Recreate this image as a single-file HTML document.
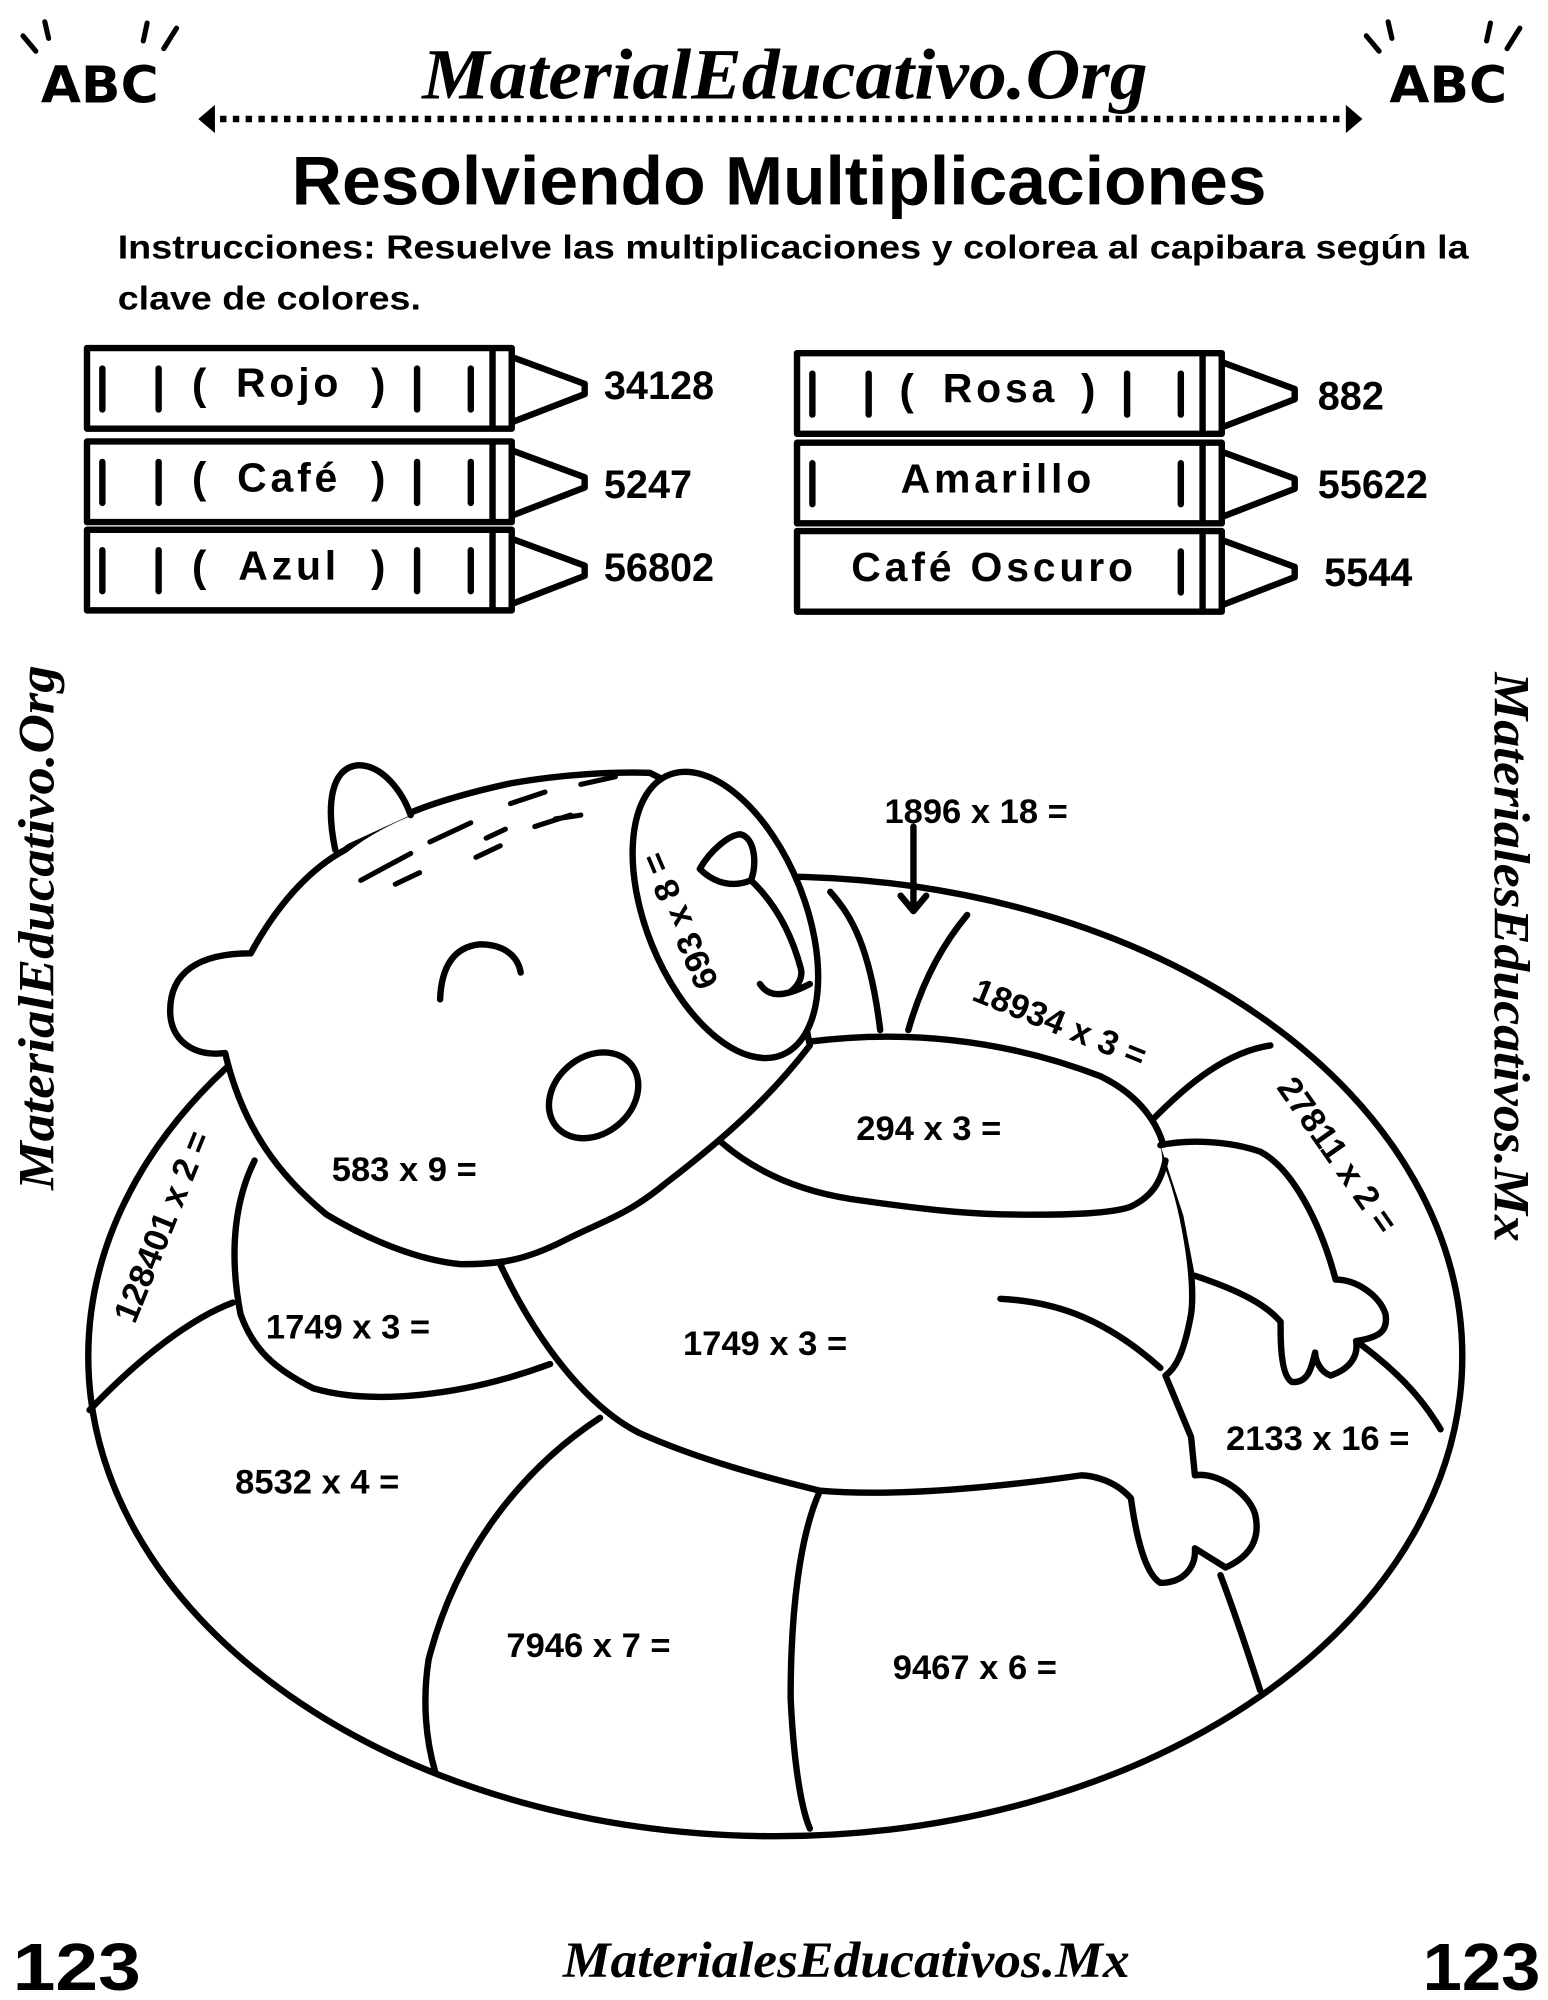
<!DOCTYPE html>
<html><head><meta charset="utf-8"><style>
html,body{margin:0;padding:0;background:#fff}
svg{display:block}
text{font-family:"Liberation Sans",sans-serif;font-weight:bold;fill:#000}
.ser{font-family:"Liberation Serif",serif;font-style:italic;font-weight:bold}
</style></head><body>
<svg width="1548" height="2000" viewBox="0 0 1210 1563" preserveAspectRatio="none" xmlns="http://www.w3.org/2000/svg">
<g fill="none" stroke="#000" stroke-width="5" stroke-linecap="round" stroke-linejoin="round">
<path d="M18 28 L28 40 M35 17 L38 30 M115 18 L112 32 M138 22 L128 38 M1068 28 L1078 40 M1085 17 L1088 30 M1165 18 L1162 32 M1188 22 L1178 38" stroke-width="4"/>
<path d="M172 93 L1048 93" stroke-dasharray="5 5" stroke-width="5" stroke-linecap="butt"/>
</g>
<path d="M155 93 L168 82 L168 104 Z M1065 93 L1052 82 L1052 104 Z" fill="#000"/>
<g fill="none" stroke="#000" stroke-width="5" stroke-linejoin="round">
<g id="cr">
<rect x="68" y="272" width="332" height="63"/>
<path d="M385 274 V333"/>
<path d="M400 279 L457 300 L457 308 L400 330"/>
</g>
<use href="#cr" y="73"/><use href="#cr" y="142"/>
<use href="#cr" x="555" y="4"/><use href="#cr" x="555" y="74"/><use href="#cr" x="555" y="143"/>
</g>
<g stroke="#000" stroke-width="5" stroke-linecap="round">
<path d="M80 288 V320 M124 288 V320 M326 288 V320 M368 288 V320 M80 361 V393 M124 361 V393 M326 361 V393 M368 361 V393 M80 430 V462 M124 430 V462 M326 430 V462 M368 430 V462"/>
<path d="M635 292 V324 M679 292 V324 M881 292 V324 M923 292 V324 M635 362 V394 M923 362 V394 M923 431 V463"/>
</g>
<g font-size="34">
<text x="150" y="312">(</text><text x="290" y="312">)</text>
<text x="150" y="385">(</text><text x="290" y="385">)</text>
<text x="150" y="454">(</text><text x="290" y="454">)</text>
<text x="703" y="316">(</text><text x="845" y="316">)</text>
</g>
<g font-size="32" letter-spacing="3">
<text x="226" y="310" text-anchor="middle">Rojo</text>
<text x="226" y="384" text-anchor="middle">Café</text>
<text x="226" y="453" text-anchor="middle">Azul</text>
<text x="782" y="314" text-anchor="middle">Rosa</text>
<text x="780" y="385" text-anchor="middle">Amarillo</text>
<text x="777" y="454" text-anchor="middle">Café Oscuro</text>
</g>
<g font-size="31">
<text x="472" y="312">34128</text><text x="472" y="389">5247</text><text x="472" y="454">56802</text>
<text x="1030" y="320">882</text><text x="1030" y="389">55622</text><text x="1035" y="458">5544</text>
</g>

<g fill="none" stroke="#000" stroke-width="5" stroke-linecap="round" stroke-linejoin="round">
<ellipse cx="606" cy="1060" rx="537" ry="375"/>
<path d="M649 697 C665 715 680 739 688 805"/>
<path d="M756 715 C735 740 720 770 710 805"/>
<path d="M993 817 C960 822 930 845 899 877"/>
<path d="M70 1102 C110 1060 150 1030 182 1018"/>
<path d="M1060 1048 C1090 1070 1110 1090 1126 1117"/>
<path d="M469 1108 C420 1140 360 1200 335 1297 C330 1330 333 1360 340 1384"/>
<path d="M641 1165 C625 1200 618 1260 618 1327 C620 1370 625 1410 633 1429"/>
<path d="M954 1231 C965 1260 975 1290 985 1321"/>
<path d="M199 907 C185 935 178 975 188 1027 C198 1055 215 1070 245 1085 C289 1098 360 1092 430 1066" fill="#fff"/>
<path d="M633 814 C704 805 782 811 860 841 C899 860 911 890 911 907 C925 940 935 1000 931 1027 C925 1060 918 1070 911 1075 L931 1123 L934 1153 C950 1150 975 1165 981 1183 C985 1200 980 1215 958 1225 L934 1210 C935 1225 925 1237 907 1237 C895 1230 888 1200 884 1171 C870 1155 850 1153 845 1153 C782 1162 700 1170 641 1165 C600 1155 547 1141 500 1120 C460 1100 420 1050 391 988 Z" fill="#fff"/>
<path d="M907 895 C930 890 962 892 985 900 C1010 913 1032 955 1044 1000 C1060 1000 1078 1012 1083 1027 C1085 1040 1079 1045 1060 1048 C1062 1060 1055 1070 1040 1075 C1032 1072 1028 1063 1028 1057 C1025 1070 1022 1081 1010 1080 C1000 1075 1001 1040 1001 1033 C990 1020 970 1009 934 997 L925 950 Z" fill="#fff" stroke="none"/>
<path d="M907 895 C930 890 962 892 985 900 C1010 913 1032 955 1044 1000 C1060 1000 1078 1012 1083 1027 C1085 1040 1079 1045 1060 1048 C1062 1060 1055 1070 1040 1075 C1032 1072 1028 1063 1028 1057 C1025 1070 1022 1081 1010 1080 C1000 1075 1001 1040 1001 1033 C990 1020 970 1009 934 997"/>
<path d="M563 892 C587 913 620 930 665 937 C720 945 750 948 782 949 C840 950 870 948 884 943 C900 935 907 925 911 907"/>
<path d="M782 1015 C820 1017 860 1027 907 1069"/>
<path d="M633 817 C600 860 563 892 520 925 C490 950 469 955 440 970 C410 985 391 988 360 988 C328 985 290 970 255 949 C220 920 190 883 176 823 C150 826 133 812 133 790 C133 760 155 745 196 745 C215 710 240 680 270 664 C300 640 340 625 400 612 C440 605 480 603 508 604 L600 650 Z" fill="#fff"/>
<path d="M262 664 C255 630 258 600 280 598 C300 598 315 620 321 637" fill="#fff"/>
<ellipse cx="567" cy="715" rx="62" ry="118" transform="rotate(-22 567 715)" fill="#fff"/>
<path d="M547 679 C555 665 570 652 579 652 C590 655 592 675 587 688 C575 693 560 692 547 679 Z"/>
<path d="M587 688 C605 705 618 727 626 757 C628 765 622 772 618 775"/>
<path d="M594 769 C600 778 610 781 633 769"/>
<path d="M344 781 C345 755 355 740 375 738 C395 738 405 748 407 760"/>
<ellipse cx="464" cy="856" rx="38" ry="30" transform="rotate(-40 464 856)"/>
<g stroke-width="4">
<path d="M282 688 L321 667 M309 691 L328 682 M336 658 L368 643 M372 670 L391 661 M399 628 L426 619 M418 646 L446 637 M454 613 L481 607 M434 640 L454 637 M380 655 L395 648"/>
</g>
<path d="M714 646 L714 712 M704 700 L714 712 L724 700"/>
</g>
<text x="78" y="80" text-anchor="middle" font-size="40" style="font-family:'DejaVu Sans',sans-serif" textLength="92" lengthAdjust="spacingAndGlyphs">ABC</text>
<text x="1132" y="80" text-anchor="middle" font-size="40" style="font-family:'DejaVu Sans',sans-serif" textLength="92" lengthAdjust="spacingAndGlyphs">ABC</text>
<text x="330" y="77" class="ser" font-size="56" textLength="567" lengthAdjust="spacingAndGlyphs">MaterialEducativo.Org</text>
<text x="228" y="160" font-size="54" textLength="762" lengthAdjust="spacingAndGlyphs">Resolviendo Multiplicaciones</text>
<text x="92" y="202" font-size="26" textLength="1056" lengthAdjust="spacingAndGlyphs">Instrucciones: Resuelve las multiplicaciones y colorea al capibara según la</text>
<text x="92" y="242" font-size="26" textLength="237" lengthAdjust="spacingAndGlyphs">clave de colores.</text>
<text transform="translate(42 725) rotate(-90)" text-anchor="middle" class="ser" font-size="40" textLength="410" lengthAdjust="spacingAndGlyphs">MaterialEducativo.Org</text>
<text transform="translate(1168 748) rotate(90)" text-anchor="middle" class="ser" font-size="40" textLength="445" lengthAdjust="spacingAndGlyphs">MaterialesEducativos.Mx</text>
<text x="10" y="1555" font-size="52" textLength="100" lengthAdjust="spacingAndGlyphs">123</text>
<text x="1112" y="1555" font-size="52" textLength="92" lengthAdjust="spacingAndGlyphs">123</text>
<text x="440" y="1545" class="ser" font-size="40" textLength="443" lengthAdjust="spacingAndGlyphs">MaterialesEducativos.Mx</text>
<g font-size="27">
<text x="763" y="643" text-anchor="middle">1896 x 18 =</text>
<text x="726" y="891" text-anchor="middle">294 x 3 =</text>
<text x="316" y="923" text-anchor="middle">583 x 9 =</text>
<text x="272" y="1046" text-anchor="middle">1749 x 3 =</text>
<text x="598" y="1059" text-anchor="middle">1749 x 3 =</text>
<text x="248" y="1167" text-anchor="middle">8532 x 4 =</text>
<text x="460" y="1295" text-anchor="middle">7946 x 7 =</text>
<text x="762" y="1312" text-anchor="middle">9467 x 6 =</text>
<text x="1030" y="1133" text-anchor="middle">2133 x 16 =</text>
<text transform="translate(825 808) rotate(22)" text-anchor="middle">18934 x 3 =</text>
<text transform="translate(1038 908) rotate(55)" text-anchor="middle">27811 x 2 =</text>
<text transform="translate(135 962) rotate(-68)" text-anchor="middle">128401 x 2 =</text>
<text transform="translate(540 716) rotate(-113)" text-anchor="middle">693 x 8 =</text>
</g>
</svg>
</body></html>
